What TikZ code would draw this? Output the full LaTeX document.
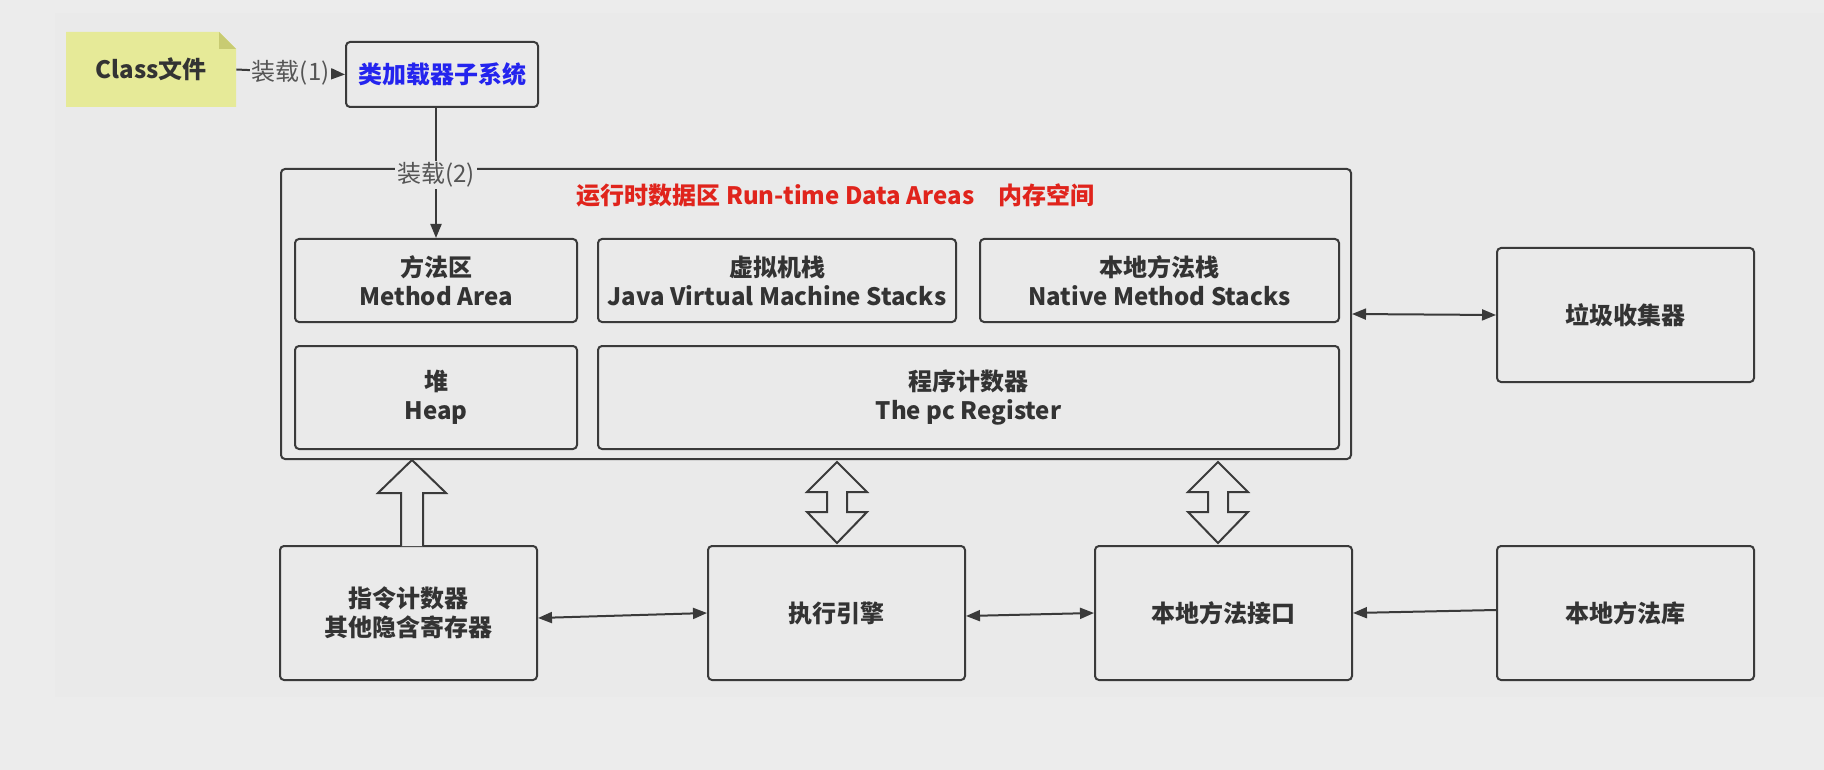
\documentclass[tikz,border=0pt]{standalone}
\usepackage{fontspec}
\setmainfont{Noto Sans CJK SC}
\usetikzlibrary{arrows.meta,calc}
\definecolor{bgout}{HTML}{ECECEC}
\definecolor{bgin}{HTML}{EAEAEA}
\definecolor{ink}{HTML}{3A3A3A}
\definecolor{txt}{HTML}{333333}
\definecolor{notefill}{HTML}{E6EA98}
\definecolor{notefold}{HTML}{C8CB72}
\definecolor{titlered}{HTML}{E0241C}
\definecolor{loaderblue}{HTML}{2424EE}
\definecolor{lblgray}{HTML}{555555}
\begin{document}
\begin{tikzpicture}[x=0.5pt,y=-0.5pt,
  box/.style={draw=ink, line width=1pt, rounded corners=2pt, inner sep=0pt, align=center, text=txt, font=\bfseries\fontsize{12}{14.5}\selectfont},
  plain/.style={inner sep=0pt, align=center, text=txt, font=\bfseries\fontsize{12}{14.5}\selectfont},
  conn/.style={draw=ink, line width=1pt},
  tip/.style={-{Triangle[length=7pt,width=5.5pt]}},
  dtip/.style={{Triangle[length=7pt,width=5.5pt]}-{Triangle[length=7pt,width=5.5pt]}},
  lbl/.style={fill=bgin, text=lblgray, inner sep=1pt, font=\fontsize{12}{14}\selectfont},
  hollow/.style={draw=ink, line width=1pt, fill=bgin, line join=miter}]
% canvas
\fill[bgout] (0,0) rectangle (1824,770);
\fill[bgin] (55,13) rectangle (1824,697);
\useasboundingbox (0,0) rectangle (1824,770);

% class file note
\fill[notefill] (66,32) -- (219,32) -- (236,49) -- (236,107) -- (66,107) -- cycle;
\fill[notefold] (219,32) -- (236,49) -- (219,49) -- cycle;
\node[plain, minimum width=85pt, minimum height=37.5pt] (cls) at (151,69.5) {Class文件};

% class loader
\node[box, minimum width=96pt, minimum height=32.5pt, text=loaderblue] (loader) at (442,74.5) {类加载器子系统};
\draw[conn,tip] (cls.east) -- node[lbl, yshift=-0.5pt] {装载(1)} (loader.west);

% runtime data area
\node[box, minimum width=535pt, minimum height=145pt] (rt) at (816,314) {};
\node[plain, text=titlered] (title) at (835.5,195) {运行时数据区 Run-time Data Areas\hspace{12pt}内存空间};

\node[box, minimum width=141pt, minimum height=41.5pt] (method) at (436,280.5) {方法区\\Method Area};
\node[box, minimum width=179pt, minimum height=41.5pt] (jvms) at (777,280.5) {虚拟机栈\\Java Virtual Machine Stacks};
\node[box, minimum width=179.5pt, minimum height=41.5pt] (nms) at (1159.5,280.5) {本地方法栈\\Native Method Stacks};
\node[box, minimum width=141pt, minimum height=51.5pt] (heap) at (436,397.5) {堆\\Heap};
\node[box, minimum width=370.5pt, minimum height=51.5pt] (pc) at (968.5,397.5) {程序计数器\\The pc Register};

% load (2)
\coordinate (l2s) at (loader.south -| method.north);
\draw[conn,tip] (l2s) -- (method.north);
\node[lbl, yshift=-3.5pt] (l2) at (method.north |- rt.north) {装载(2)};

% garbage collector
\node[box, minimum width=128.5pt, minimum height=67pt] (gc) at (1625.5,315) {垃圾收集器};
\draw[conn,dtip] (rt.east) -- (gc.west);

% bottom row
\node[box, minimum width=128.5pt, minimum height=67pt] (instr) at (408.5,613) {指令计数器\\其他隐含寄存器};
\node[box, minimum width=128.5pt, minimum height=67pt] (exec) at (836.5,613) {执行引擎};
\node[box, minimum width=128.5pt, minimum height=67pt] (jni) at (1223.5,613) {本地方法接口};
\node[box, minimum width=128.5pt, minimum height=67pt] (lib) at (1625.5,613) {本地方法库};

\draw[conn,dtip] ([yshift=-2.5pt]instr.east) -- (exec.west);
\draw[conn,dtip] ([yshift=-1.5pt]exec.east) -- (jni.west);
\draw[conn,tip] ([yshift=1.5pt]lib.west) -- (jni.east);

% hollow arrows
\draw[hollow] (401,546) -- (401,493) -- (378,493) -- (412,460) -- (446,493) -- (423,493) -- (423,546);
\draw[hollow] (837,462) -- (867,492) -- (847,492) -- (847,512) -- (867,512) -- (837,543) -- (807,512) -- (827,512) -- (827,492) -- (807,492) -- cycle;
\draw[hollow] (1218,462) -- (1248,492) -- (1228,492) -- (1228,512) -- (1248,512) -- (1218,543) -- (1188,512) -- (1208,512) -- (1208,492) -- (1188,492) -- cycle;
\end{tikzpicture}
\end{document}
